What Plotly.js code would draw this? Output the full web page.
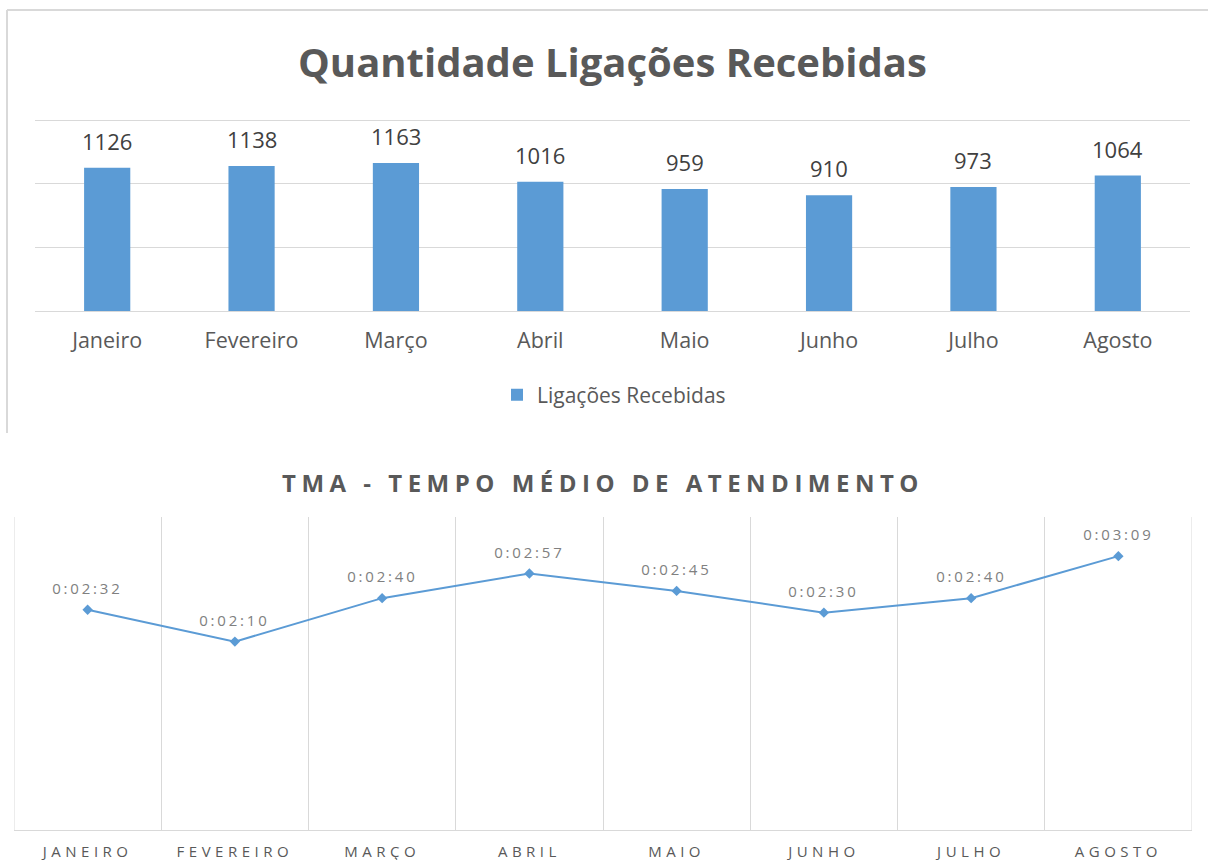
<!DOCTYPE html>
<html>
<head>
<meta charset="utf-8">
<script src="https://cdn.plot.ly/plotly-3.0.1.min.js"></script>
<style>
  html, body { margin: 0; padding: 0; background: #ffffff; }
  #chart { width: 1208px; height: 860px; }
</style>
</head>
<body>
<div id="chart"></div>
<script>
// ---- Data ----
const months = ["Janeiro", "Fevereiro", "Março", "Abril", "Maio", "Junho", "Julho", "Agosto"];
const monthsUpper = ["JANEIRO", "FEVEREIRO", "MARÇO", "ABRIL", "MAIO", "JUNHO", "JULHO", "AGOSTO"];
const calls = [1126, 1138, 1163, 1016, 959, 910, 973, 1064];
const tma = ["0:02:32", "0:02:10", "0:02:40", "0:02:57", "0:02:45", "0:02:30", "0:02:40", "0:03:09"];
const topTitle = "Quantidade Ligações Recebidas";
const bottomTitle = "TMA - TEMPO MÉDIO DE ATENDIMENTO";
const seriesName = "Ligações Recebidas";

// ---- helpers ----
function toSeconds(s) {
  const p = s.split(":").map(Number);
  return p[0] * 3600 + p[1] * 60 + p[2];
}
const tmaSec = tma.map(toSeconds);

const W = 1208, H = 860;
const px = v => v / W;
const py = v => 1 - v / H;

const BLUE = "#5b9bd5";
const GRID = "#d9d9d9";
const FONT = "Open Sans";

const barTrace = {
  type: "bar",
  x: months,
  y: calls,
  name: seriesName,
  marker: { color: BLUE },
  xaxis: "x",
  yaxis: "y",
  hoverinfo: "none",
  showlegend: true
};

const lineTrace = {
  type: "scatter",
  mode: "lines+markers",
  x: monthsUpper,
  y: tmaSec,
  xaxis: "x2",
  yaxis: "y2",
  line: { color: BLUE, width: 2 },
  marker: { color: BLUE, symbol: "diamond", size: 8 },
  hoverinfo: "none",
  showlegend: false
};

const annotations = [];
// top title
annotations.push({
  xref: "paper", yref: "paper", x: px(612), y: py(62),
  xanchor: "center", yanchor: "middle", showarrow: false,
  text: "<b>" + topTitle + "</b>",
  font: { family: FONT, size: 40, color: "#595959" }
});
// bottom title
annotations.push({
  xref: "paper", yref: "paper", x: px(603), y: py(483),
  xanchor: "center", yanchor: "middle", showarrow: false,
  text: "<b>" + bottomTitle + "</b>",
  font: { family: FONT, size: 24, color: "#595959" }
});
// bar labels
months.forEach((m, i) => annotations.push({
  xref: "x", yref: "y", x: m, y: calls[i],
  xanchor: "center", yanchor: "bottom", yshift: 10, showarrow: false,
  text: String(calls[i]),
  font: { family: FONT, size: 22, color: "#404040" }
}));
// line labels
monthsUpper.forEach((m, i) => annotations.push({
  xref: "x2", yref: "y2", x: m, y: tmaSec[i],
  xanchor: "center", yanchor: "bottom", yshift: 10, showarrow: false,
  text: tma[i],
  font: { family: FONT, size: 15, color: "#808080" }
}));

const layout = {
  width: W, height: H,
  margin: { l: 0, r: 0, t: 0, b: 0 },
  paper_bgcolor: "#ffffff",
  plot_bgcolor: "rgba(0,0,0,0)",
  showlegend: true,
  bargap: 0.68,
  legend: {
    orientation: "h", x: px(614), y: py(395), xanchor: "center", yanchor: "middle",
    font: { family: FONT, size: 21, color: "#595959" },
    itemwidth: 30
  },
  xaxis: {
    domain: [px(35), px(1190)], anchor: "y",
    type: "category", range: [-0.5, 7.5],
    showgrid: false, zeroline: false, showline: false,
    ticks: "", ticklabelstandoff: 14,
    tickfont: { family: FONT, size: 21.5, color: "#595959" },
    fixedrange: true
  },
  yaxis: {
    domain: [py(311), py(116.2)], anchor: "x",
    range: [0, 1530], dtick: 500, tick0: 0,
    showgrid: true, gridcolor: GRID, gridwidth: 1,
    zeroline: true, zerolinecolor: GRID, zerolinewidth: 1,
    showticklabels: false, ticks: "", showline: false,
    fixedrange: true
  },
  xaxis2: {
    domain: [px(14), px(1192)], anchor: "y2",
    type: "category", range: [-0.5, 7.5], tickson: "boundaries",
    showgrid: true, gridcolor: GRID, gridwidth: 1,
    showline: true, linecolor: GRID, linewidth: 1,
    zeroline: false, ticks: "", ticklabelstandoff: 8,
    tickfont: { family: FONT, size: 15, color: "#595959" },
    fixedrange: true
  },
  yaxis2: {
    domain: [py(830), py(517)], anchor: "x2",
    range: [0, 216], showgrid: false, zeroline: false,
    showticklabels: false, ticks: "", showline: false,
    fixedrange: true
  },
  shapes: [
    { type: "line", xref: "paper", yref: "paper", x0: px(7), x1: 1, y0: py(10), y1: py(10),
      line: { color: GRID, width: 2 } },
    { type: "line", xref: "paper", yref: "paper", x0: px(7), x1: px(7), y0: py(10), y1: py(433),
      line: { color: GRID, width: 2 } },
    // plot-area edges of the lower chart (category boundaries at both ends)
    { type: "line", xref: "x2", yref: "paper", x0: -0.5, x1: -0.5, y0: py(830), y1: py(517),
      line: { color: GRID, width: 1 } },
    { type: "line", xref: "x2", yref: "paper", x0: 7.5, x1: 7.5, y0: py(830), y1: py(517),
      line: { color: GRID, width: 1 } }
  ],
  annotations: annotations
};

Plotly.newPlot("chart", [barTrace, lineTrace], layout, { displayModeBar: false, staticPlot: true }).then(() => {
  // wide letter tracking as in the original lower chart
  const anns = document.querySelectorAll(".annotation-text");
  if (anns[1]) anns[1].style.letterSpacing = "5.5px";
  for (let i = 2 + months.length; i < anns.length; i++) anns[i].style.letterSpacing = "2.8px";
  document.querySelectorAll(".x2tick text").forEach(t => { t.style.letterSpacing = "4.5px"; });
});
</script>
</body>
</html>
